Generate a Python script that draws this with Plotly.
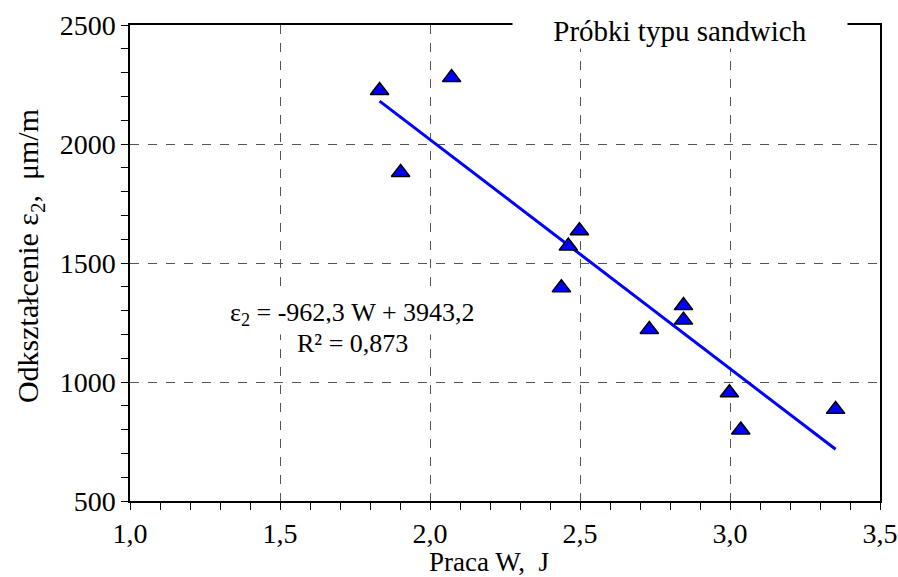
import plotly.graph_objects as go

# Data
praca_w = [1.832, 2.072, 1.902, 2.498, 2.461, 2.438, 2.731, 2.845, 2.845, 2.998, 3.036, 3.352]
odksztalcenie = [2225, 2279, 1880, 1636, 1571, 1396, 1221, 1321, 1260, 955, 798, 885]
fit_slope = -962.3
fit_intercept = 3943.2
fit_x = [min(praca_w), max(praca_w)]
fit_y = [fit_slope * x + fit_intercept for x in fit_x]

FONT = "Times New Roman, Times, Liberation Serif, serif"

fig = go.Figure()
fig.add_trace(go.Scatter(x=fit_x, y=fit_y, mode="lines",
                         line=dict(color="#0000FF", width=3), showlegend=False))
fig.add_trace(go.Scatter(x=praca_w, y=odksztalcenie, mode="markers",
                         marker=dict(symbol="triangle-up", size=16, color="#0000FF",
                                     line=dict(color="black", width=1.5)),
                         showlegend=False))

axis_common = dict(showline=True, linecolor="black", linewidth=1.5, mirror=True,
                   ticks="outside", ticklen=7, tickwidth=1, tickcolor="black",
                   showgrid=True, gridcolor="#555555", gridwidth=1, griddash="dash",
                   zeroline=False, automargin=False,
                   tickfont=dict(family=FONT, size=28, color="black"))

fig.update_xaxes(range=[1.0, 3.5], dtick=0.5, tick0=1.0, tickformat=".1f",
                 minor=dict(ticks="outside", dtick=0.1, ticklen=7, tickcolor="black", showgrid=False),
                 **axis_common)
fig.update_yaxes(range=[500, 2500], dtick=500, tick0=500,
                 minor=dict(ticks="outside", dtick=100, ticklen=7, tickcolor="black", showgrid=False),
                 **axis_common)

fig.add_annotation(text="Odkształcenie ε<sub>2</sub>,  μm/m", xref="paper", yref="paper",
                   x=-0.133, y=0.515, textangle=-90, showarrow=False,
                   font=dict(family=FONT, size=30, color="black"),
                   xanchor="center", yanchor="middle")
fig.add_annotation(text="Praca W,  J", xref="paper", yref="paper", x=0.479, y=-0.128,
                   showarrow=False, font=dict(family=FONT, size=27, color="black"),
                   xanchor="center", yanchor="middle")
fig.add_annotation(text="Próbki typu sandwich", xref="paper", yref="paper", x=0.733, y=0.987,
                   showarrow=False, font=dict(family=FONT, size=29, color="black"),
                   bgcolor="white", xanchor="center", yanchor="middle", borderpad=0,
                   width=334, height=34)
fig.add_annotation(text="ε<sub>2</sub> = -962,3 W + 3943,2", xref="paper", yref="paper",
                   x=0.296, y=0.392, showarrow=False, align="center",
                   font=dict(family=FONT, size=26, color="black"),
                   bgcolor="white", xanchor="center", yanchor="middle", height=38)
fig.add_annotation(text="R² = 0,873", xref="paper", yref="paper",
                   x=0.296, y=0.332, showarrow=False, align="center",
                   font=dict(family=FONT, size=26, color="black"),
                   bgcolor="white", xanchor="center", yanchor="middle", height=36)

fig.update_layout(width=898, height=577, separators=", ",
                  margin=dict(l=130, r=18, t=25, b=76, autoexpand=False),
                  plot_bgcolor="white", paper_bgcolor="white",
                  font=dict(family=FONT, color="black"))

fig.write_html("out.html")
